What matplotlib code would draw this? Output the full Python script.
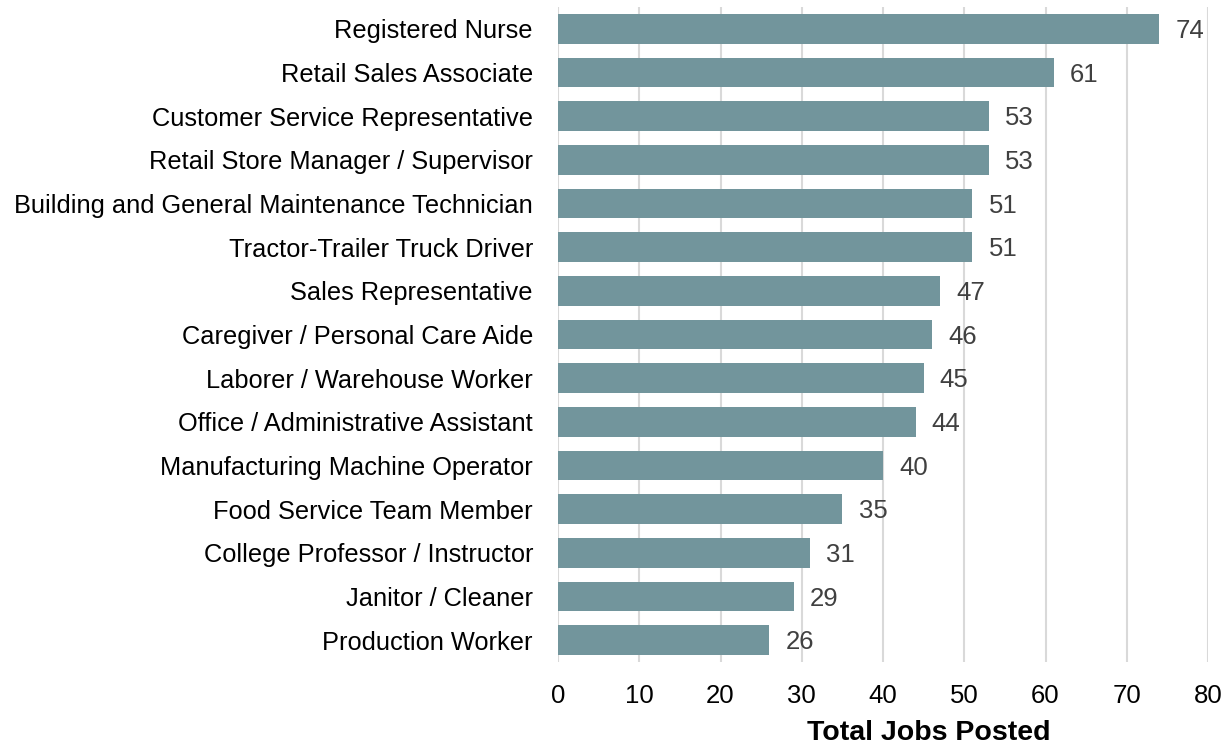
import matplotlib.pyplot as plt
import numpy as np

jobs = [
    "Registered Nurse",
    "Retail Sales Associate",
    "Customer Service Representative",
    "Retail Store Manager / Supervisor",
    "Building and General Maintenance Technician",
    "Tractor-Trailer Truck Driver",
    "Sales Representative",
    "Caregiver / Personal Care Aide",
    "Laborer / Warehouse Worker",
    "Office / Administrative Assistant",
    "Manufacturing Machine Operator",
    "Food Service Team Member",
    "College Professor / Instructor",
    "Janitor / Cleaner",
    "Production Worker",
]
postings = [74, 61, 53, 53, 51, 51, 47, 46, 45, 44, 40, 35, 31, 29, 26]
x_ticks = [0, 10, 20, 30, 40, 50, 60, 70, 80]

plt.rcParams["font.family"] = ["Liberation Sans", "DejaVu Sans"]

fig = plt.figure(figsize=(12.31, 7.47), dpi=100)
ax = fig.add_axes([558 / 1231, 1 - 662 / 747, 650 / 1231, 655 / 747])

y = np.arange(len(jobs))
ax.barh(y, postings, height=0.68, color="#72959c", zorder=2)
for yi, v in zip(y, postings):
    ax.text(v + 2.0, yi + 0.05, str(v), va="center", ha="left", fontsize=18.5, color="#404040")

ax.set_yticks(y)
ax.set_yticklabels(jobs, fontsize=18.3)
ax.set_ylim(len(jobs) - 0.5, -0.5)
ax.set_xlim(0, 80)
ax.set_xticks(x_ticks)
ax.tick_params(axis="x", labelsize=18.5, length=0, pad=16)
ax.tick_params(axis="y", length=0, pad=18)
ax.grid(axis="x", color="#d9d9d9", linewidth=1.5, zorder=0)
for s in ax.spines.values():
    s.set_visible(False)

fig.text(929 / 1231, 1 - 733 / 747, "Total Jobs Posted", ha="center", va="center",
         fontsize=20.5, fontweight="bold")

fig.savefig("out.png", dpi=100)
